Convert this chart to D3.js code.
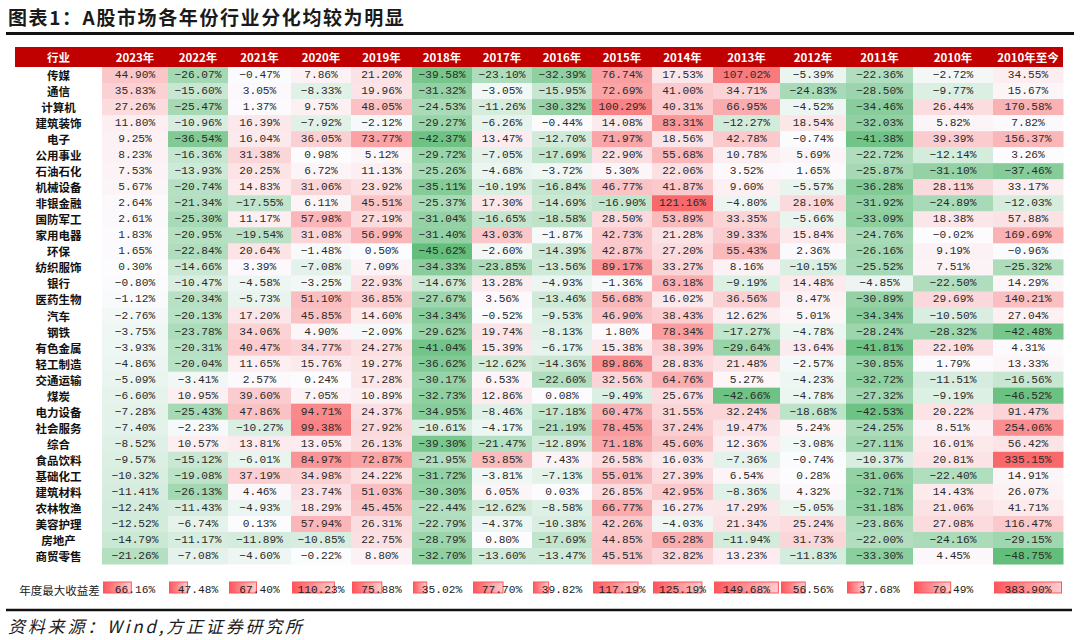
<!DOCTYPE html>
<html>
<head>
<meta charset="utf-8">
<script src="https://cdn.jsdelivr.net/npm/d3@7"></script>
<style>
body { margin: 0; background: #fff; }
</style>
</head>
<body>
<script>
"use strict"

var industries = ["传媒", "通信", "计算机", "建筑装饰", "电子", "公用事业", "石油石化", "机械设备",
  "非银金融", "国防军工", "家用电器", "环保", "纺织服饰", "银行", "医药生物", "汽车", "钢铁",
  "有色金属", "轻工制造", "交通运输", "煤炭", "电力设备", "社会服务", "综合", "食品饮料",
  "基础化工", "建筑材料", "农林牧渔", "美容护理", "房地产", "商贸零售"];

var columns = ["2023年", "2022年", "2021年", "2020年", "2019年", "2018年", "2017年", "2016年",
  "2015年", "2014年", "2013年", "2012年", "2011年", "2010年", "2010年至今"];

var v2023 = [44.90, 35.83, 27.26, 11.80, 9.25, 8.23, 7.53, 5.67, 2.64, 2.61, 1.83, 1.65, 0.30, -0.80, -1.12, -2.76,
  -3.75, -3.93, -4.86, -5.09, -6.60, -7.28, -7.40, -8.52, -9.57, -10.32, -11.41, -12.24, -12.52, -14.79, -21.26];
var v2022 = [-26.07, -15.60, -25.47, -10.96, -36.54, -16.36, -13.93, -20.74, -21.34, -25.30, -20.95, -22.84, -14.66, -10.47, -20.34, -20.13,
  -23.78, -20.31, -20.04, -3.41, 10.95, -25.43, -2.23, 10.57, -15.12, -19.08, -26.13, -11.43, -6.74, -11.17, -7.08];
var v2021 = [-0.47, 3.05, 1.37, 16.39, 16.04, 31.38, 20.25, 14.83, -17.55, 11.17, -19.54, 20.64, 3.39, -4.58, -5.73, 17.20,
  34.06, 40.47, 11.65, 2.57, 39.60, 47.86, -10.27, 13.81, -6.01, 37.19, 4.46, -4.93, 0.13, -11.89, -4.60];
var v2020 = [7.86, -8.33, 9.75, -7.92, 36.05, 0.98, 6.72, 31.06, 6.11, 57.98, 31.08, -1.48, -7.08, -3.25, 51.10, 45.85,
  4.90, 34.77, 15.76, 0.24, 7.05, 94.71, 99.38, 13.05, 84.97, 34.98, 23.74, 18.29, 57.94, -10.85, -0.22];
var v2019 = [21.20, 19.96, 48.05, -2.12, 73.77, 5.12, 11.13, 23.92, 45.51, 27.19, 56.99, 0.50, 7.09, 22.93, 36.85, 14.60,
  -2.09, 24.27, 19.27, 17.28, 10.89, 24.37, 27.92, 26.13, 72.87, 24.22, 51.03, 45.45, 26.31, 22.75, 8.80];
var v2018 = [-39.58, -31.32, -24.53, -29.27, -42.37, -29.72, -25.26, -35.11, -25.37, -31.04, -31.40, -45.62, -34.33, -14.67, -27.67, -34.34,
  -29.62, -41.04, -36.62, -30.17, -32.73, -34.95, -10.61, -39.30, -21.95, -31.72, -30.30, -22.44, -22.79, -28.79, -32.70];
var v2017 = [-23.10, -3.05, -11.26, -6.26, 13.47, -7.05, -4.68, -10.19, 17.30, -16.65, 43.03, -2.60, -23.85, 13.28, 3.56, -0.52,
  19.74, 15.39, -12.62, 6.53, 12.86, -8.46, -4.17, -21.47, 53.85, -3.81, 6.05, -12.62, -4.37, 0.80, -13.60];
var v2016 = [-32.39, -15.95, -30.32, -0.44, -12.70, -17.69, -3.72, -16.84, -14.69, -18.58, -1.87, -14.39, -13.56, -4.93, -13.46, -9.53,
  -8.13, -6.17, -14.36, -22.60, 0.08, -17.18, -21.19, -12.89, 7.43, -7.13, 0.03, -8.58, -10.38, -17.69, -13.47];
var v2015 = [76.74, 72.69, 100.29, 14.08, 71.97, 22.90, 5.30, 46.77, -16.90, 28.50, 42.73, 42.87, 89.17, -1.36, 56.68, 46.90,
  1.80, 15.38, 89.86, 32.56, -9.49, 60.47, 78.45, 71.18, 26.58, 55.01, 26.85, 66.77, 42.26, 44.85, 45.51];
var v2014 = [17.53, 41.00, 40.31, 83.31, 18.56, 55.68, 22.06, 41.87, 121.16, 53.89, 21.28, 27.20, 33.27, 63.18, 16.02, 38.43,
  78.34, 38.39, 28.83, 64.76, 25.67, 31.55, 37.24, 45.60, 16.03, 27.39, 42.95, 16.27, -4.03, 65.28, 32.82];
var v2013 = [107.02, 34.71, 66.95, -12.27, 42.78, 10.78, 3.52, 9.60, -4.80, 33.35, 39.33, 55.43, 8.16, -9.19, 36.56, 12.62,
  -17.27, -29.64, 21.48, 5.27, -42.66, 32.24, 19.47, 12.36, -7.36, 6.54, -8.36, 17.29, 21.34, -11.94, 13.23];
var v2012 = [-5.39, -24.83, -4.52, 18.54, -0.74, 5.69, 1.65, -5.57, 28.10, -5.66, 15.84, 2.36, -10.15, 14.48, 8.47, 5.01,
  -4.78, 13.64, -2.57, -4.23, -4.78, -18.68, 5.24, -3.08, -0.74, 0.28, 4.32, -5.05, 25.24, 31.73, -11.83];
var v2011 = [-22.36, -28.50, -34.46, -32.03, -41.38, -22.72, -25.87, -36.28, -31.92, -33.09, -24.76, -26.16, -25.52, -4.85, -30.89, -34.34,
  -28.24, -41.81, -30.85, -32.72, -27.32, -42.53, -24.25, -27.11, -10.37, -31.06, -32.71, -31.18, -23.86, -22.00, -33.30];
var v2010 = [-2.72, -9.77, 26.44, 5.82, 39.39, -12.14, -31.10, 28.11, -24.89, 18.38, -0.02, 9.19, 7.51, -22.50, 29.69, -10.50,
  -28.32, 22.10, 1.79, -11.51, -9.19, 20.22, 8.51, 16.01, 20.81, -22.40, 14.43, 21.06, 27.08, -24.16, 4.45];
var vSince2010 = [34.55, 15.67, 170.58, 7.82, 156.37, 3.26, -37.46, 33.17, -12.03, 57.88, 169.69, -0.96, -25.32, 14.29, 140.21, 27.04,
  -42.48, 4.31, 13.33, -16.56, -46.52, 91.47, 254.06, 56.42, 335.15, 14.91, 26.07, 41.71, 116.47, -29.15, -48.75];

// 年度最大收益差 row
var maxSpread = [66.16, 47.48, 67.40, 110.23, 75.88, 35.02, 77.70, 39.82, 117.19, 125.19, 149.68, 56.56, 37.68, 70.49, 383.90];

var yearCols = [v2023, v2022, v2021, v2020, v2019, v2018, v2017, v2016, v2015, v2014, v2013, v2012, v2011, v2010];
var allCols = yearCols.concat([vSince2010]);

// ---- layout ----
var width = 1080, height = 640;
var tableLeft = 15, firstColLeft = 102, headerTop = 47, headerH = 20;
var colWidths = [66, 60, 63, 60, 61, 60, 60, 60, 60, 61, 67, 66, 67, 80, 70];
var colLefts = Array.from(d3.cumsum([firstColLeft].concat(colWidths))).slice(0, colWidths.length);
var tableRight = firstColLeft + d3.sum(colWidths);

var x = d3.scaleOrdinal().domain(columns).range(colLefts);
var w = d3.scaleOrdinal().domain(columns).range(colWidths);
var y = d3.scaleBand().domain(industries).range([headerTop + headerH, 564]).padding(0);

// Excel style 3-colour scales, one for the yearly columns, one for the cumulative column
var scaleColors = ["#63BE7B", "#FCFCFF", "#F8696B"];
var yearVals = d3.merge(yearCols);
var colorYears = d3.scaleLinear().domain([d3.min(yearVals), 0, d3.max(yearVals)]).range(scaleColors);
var colorTotal = d3.scaleLinear().domain([d3.min(vSince2010), 0, d3.max(vSince2010)]).range(scaleColors);

var barLen = d3.scaleLinear().domain([0, 150]).range([0, 1]).clamp(true);
var fmt = function(v) { return d3.format(".2f")(v) + "%"; };

var cjk = "'Noto Sans CJK SC', 'Noto Sans', sans-serif";
var mono = "'Liberation Mono', 'DejaVu Sans Mono', monospace";

var svg = d3.select("body").append("svg")
  .attr("width", width)
  .attr("height", height)
  .style("display", "block");

// gradient for the data bars
var grad = svg.append("defs").append("linearGradient").attr("id", "barGrad");
grad.append("stop").attr("offset", "0%").attr("stop-color", "#FF555A");
grad.append("stop").attr("offset", "100%").attr("stop-color", "#FFCDCF");

// title
svg.append("text")
  .attr("x", 8)
  .attr("y", 25)
  .attr("font-family", cjk)
  .attr("font-size", 19)
  .attr("font-weight", "bold")
  .attr("letter-spacing", 1.6)
  .attr("fill", "#1a1a1a")
  .text("图表1：A股市场各年份行业分化均较为明显");

svg.append("line")
  .attr("x1", 6).attr("x2", 1074)
  .attr("y1", 33.5).attr("y2", 33.5)
  .attr("stroke", "#111")
  .attr("stroke-width", 3);

// header row
svg.append("rect")
  .attr("x", tableLeft)
  .attr("y", headerTop)
  .attr("width", tableRight - tableLeft)
  .attr("height", headerH)
  .attr("fill", "#C00000");

var headerText = svg.append("g")
  .attr("font-family", cjk)
  .attr("font-size", 11.5)
  .attr("font-weight", "bold")
  .attr("fill", "#fff")
  .attr("text-anchor", "middle")
  .attr("dominant-baseline", "central");

headerText.append("text")
  .attr("x", (tableLeft + firstColLeft) / 2)
  .attr("y", headerTop + headerH / 2)
  .text("行业");

headerText.selectAll(".hd")
  .data(columns)
  .enter().append("text")
  .attr("class", "hd")
  .attr("x", function(d) { return x(d) + w(d) / 2; })
  .attr("y", headerTop + headerH / 2)
  .text(function(d) { return d; });

// industry labels
svg.append("g")
  .attr("font-family", cjk)
  .attr("font-size", 11.5)
  .attr("font-weight", "bold")
  .attr("fill", "#111")
  .attr("text-anchor", "middle")
  .attr("dominant-baseline", "central")
  .selectAll("text")
  .data(industries)
  .enter().append("text")
  .attr("x", (tableLeft + firstColLeft) / 2)
  .attr("y", function(d) { return y(d) + y.bandwidth() / 2; })
  .text(function(d) { return d; });

// heat-map cells
var cells = [];
columns.forEach(function(col, ci) {
  var color = ci === columns.length - 1 ? colorTotal : colorYears;
  allCols[ci].forEach(function(v, ri) {
    cells.push({ col: col, ind: industries[ri], value: v, fill: color(v) });
  });
});

var cell = svg.append("g").selectAll("g")
  .data(cells)
  .enter().append("g");

cell.append("rect")
  .attr("x", function(d) { return x(d.col); })
  .attr("y", function(d) { return y(d.ind); })
  .attr("width", function(d) { return w(d.col) + 0.5; })
  .attr("height", y.bandwidth() + 0.5)
  .attr("fill", function(d) { return d.fill; });

cell.append("text")
  .attr("x", function(d) { return x(d.col) + w(d.col) / 2; })
  .attr("y", function(d) { return y(d.ind) + y.bandwidth() / 2; })
  .attr("font-family", mono)
  .attr("font-size", 11.2)
  .attr("fill", "#2a2a2a")
  .attr("text-anchor", "middle")
  .attr("dominant-baseline", "central")
  .text(function(d) { return fmt(d.value); });

// 年度最大收益差 row with data bars
var spreadY = 588;
svg.append("text")
  .attr("x", (tableLeft + firstColLeft) / 2 + 1)
  .attr("y", spreadY + 2)
  .attr("font-family", cjk)
  .attr("font-size", 11.5)
  .attr("fill", "#222")
  .attr("text-anchor", "middle")
  .attr("dominant-baseline", "central")
  .text("年度最大收益差");

var spread = svg.append("g").selectAll("g")
  .data(columns.map(function(c, i) { return { col: c, value: maxSpread[i] }; }))
  .enter().append("g");

spread.append("rect")
  .attr("x", function(d) { return x(d.col) + 1.5; })
  .attr("y", spreadY - 6)
  .attr("width", function(d) { return barLen(d.value) * (w(d.col) - 3); })
  .attr("height", 11)
  .attr("fill", "url(#barGrad)")
  .attr("stroke", "#FF555A")
  .attr("stroke-width", 1);

spread.append("text")
  .attr("x", function(d) { return x(d.col) + w(d.col) / 2; })
  .attr("y", spreadY + 2)
  .attr("font-family", mono)
  .attr("font-size", 11.2)
  .attr("fill", "#222")
  .attr("text-anchor", "middle")
  .attr("dominant-baseline", "central")
  .text(function(d) { return fmt(d.value); });

// bottom rule and source
svg.append("line")
  .attr("x1", 6).attr("x2", 1072)
  .attr("y1", 610).attr("y2", 610)
  .attr("stroke", "#111")
  .attr("stroke-width", 2.5);

svg.append("text")
  .attr("x", 8)
  .attr("y", 633)
  .attr("font-family", cjk)
  .attr("font-size", 17)
  .attr("font-style", "italic")
  .attr("letter-spacing", 2.8)
  .attr("fill", "#1a1a1a")
  .text("资料来源：Wind,方正证券研究所");
</script>
</body>
</html>
